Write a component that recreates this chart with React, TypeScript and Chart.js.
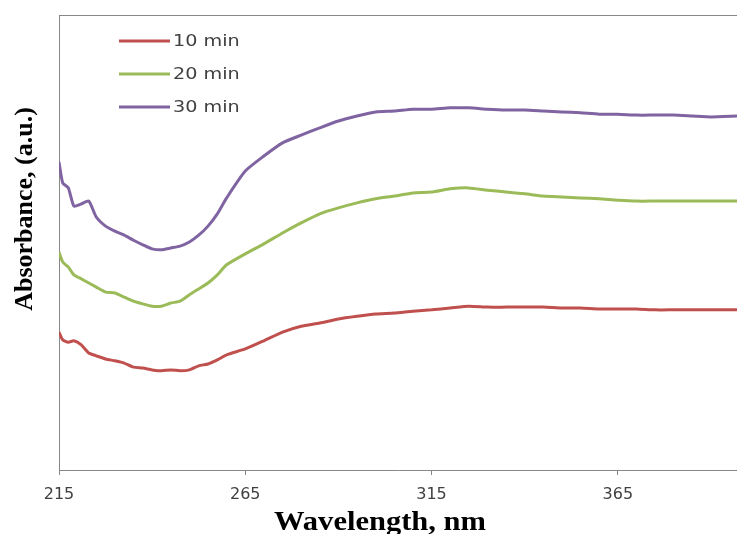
import React, { useEffect, useRef } from "react";
import { Chart, registerables } from "chart.js";

Chart.register(...registerables);

const wavelengths = [215, 216, 217.5, 219, 221, 223, 225, 227.5, 230, 232.5, 235, 237.5, 240, 242.5, 245, 247.5, 250, 252.5, 255, 257.5, 260, 265, 270, 275, 280, 285, 290, 295, 300, 305, 310, 315, 320, 325, 330, 335, 340, 345, 350, 355, 360, 365, 370, 375, 380, 385, 390, 397];

const series10 = [30.3, 28.6, 28.1, 28.4, 27.5, 25.7, 25.1, 24.4, 24.0, 23.5, 22.6, 22.4, 22.0, 21.8, 22.0, 21.8, 22.0, 22.9, 23.3, 24.2, 25.3, 26.6, 28.4, 30.3, 31.6, 32.3, 33.2, 33.8, 34.3, 34.5, 34.9, 35.2, 35.6, 36.0, 35.8, 35.8, 35.8, 35.8, 35.6, 35.6, 35.4, 35.4, 35.4, 35.2, 35.2, 35.2, 35.2, 35.2];

const series20 = [47.9, 45.7, 44.6, 42.9, 42.0, 41.1, 40.2, 39.1, 38.9, 38.0, 37.1, 36.5, 36.0, 36.0, 36.7, 37.1, 38.5, 39.8, 41.1, 42.9, 45.1, 47.5, 49.7, 52.1, 54.3, 56.3, 57.6, 58.7, 59.6, 60.2, 60.9, 61.1, 61.8, 62.0, 61.5, 61.1, 60.7, 60.2, 60.0, 59.8, 59.6, 59.3, 59.1, 59.1, 59.1, 59.1, 59.1, 59.1];

const series30 = [67.7, 63.1, 62.0, 58.0, 58.5, 59.1, 55.6, 53.6, 52.5, 51.6, 50.5, 49.5, 48.6, 48.4, 48.8, 49.2, 50.1, 51.6, 53.6, 56.3, 59.8, 65.7, 69.0, 71.9, 73.6, 75.2, 76.7, 77.8, 78.7, 78.9, 79.3, 79.3, 79.6, 79.6, 79.3, 79.1, 79.1, 78.9, 78.7, 78.5, 78.2, 78.2, 78.0, 78.0, 78.0, 77.8, 77.6, 77.8];

const seriesLabels = ["10 min", "20 min", "30 min"];
const seriesColors = ["#C0504D", "#9BBB59", "#8064A2"];
const xTicks = [215, 265, 315, 365];
const xTitle = "Wavelength, nm";
const yTitle = "Absorbance, (a.u.)";

const AXIS_COLOR = "#878787";

const decorPlugin = {
  id: "decor",
  afterDraw(chart: any) {
    const { ctx, chartArea } = chart;
    ctx.save();
    // top frame line
    ctx.strokeStyle = AXIS_COLOR;
    ctx.lineWidth = 1;
    ctx.beginPath();
    ctx.moveTo(chartArea.left, chartArea.top + 0.5);
    ctx.lineTo(chartArea.right, chartArea.top + 0.5);
    ctx.stroke();

    // legend
    chart.data.datasets.forEach((ds: any, i: number) => {
      const y = chartArea.top + 26 + i * 33;
      const x0 = chartArea.left + 60;
      ctx.strokeStyle = ds.borderColor;
      ctx.lineWidth = 3;
      ctx.beginPath();
      ctx.moveTo(x0, y);
      ctx.lineTo(x0 + 51, y);
      ctx.stroke();
      ctx.save();
      ctx.translate(x0 + 54, y);
      ctx.scale(1.28, 1);
      ctx.fillStyle = "#404040";
      ctx.font = "15px 'DejaVu Sans'";
      ctx.textBaseline = "middle";
      ctx.textAlign = "left";
      ctx.fillText(ds.label, 0, 1);
      ctx.restore();
    });

    // y title
    ctx.save();
    ctx.translate(25, 209);
    ctx.rotate(-Math.PI / 2);
    ctx.fillStyle = "#000";
    ctx.font = "bold 26px 'Liberation Serif'";
    ctx.textAlign = "center";
    ctx.textBaseline = "middle";
    ctx.fillText(yTitle, 0, 0);
    ctx.restore();

    // x title
    ctx.save();
    ctx.translate(380, 530);
    ctx.scale(1.09, 1);
    ctx.fillStyle = "#000";
    ctx.font = "bold 28px 'Liberation Serif'";
    ctx.textAlign = "center";
    ctx.textBaseline = "alphabetic";
    ctx.fillText(xTitle, 0, 0);
    ctx.restore();

    ctx.restore();
  },
};

export default function App() {
  const canvasRef = useRef<HTMLCanvasElement | null>(null);

  useEffect(() => {
    if (!canvasRef.current) return;
    const allSeries = [series10, series20, series30];
    const chart = new Chart(canvasRef.current, {
      type: "line",
      data: {
        datasets: allSeries.map((s, i) => ({
          label: seriesLabels[i],
          data: wavelengths.map((w, j) => ({ x: w, y: s[j] })),
          borderColor: seriesColors[i],
          backgroundColor: seriesColors[i],
          borderWidth: 3,
          pointRadius: 0,
          tension: 0.2,
          fill: false,
        })),
      },
      options: {
        responsive: false,
        animation: false,
        layout: { padding: { top: 15, left: 0, right: 0, bottom: 0 } },
        plugins: {
          legend: { display: false },
          tooltip: { enabled: false },
          title: { display: false },
        },
        scales: {
          x: {
            type: "linear",
            min: 215,
            max: 397,
            afterBuildTicks: (scale: any) => {
              scale.ticks = xTicks.map((v) => ({ value: v }));
            },
            afterFit: (scale: any) => {
              scale.height = 64;
            },
            grid: {
              display: true,
              drawOnChartArea: false,
              drawTicks: true,
              tickLength: 5,
              color: AXIS_COLOR,
            },
            border: { display: true, color: AXIS_COLOR, width: 1 },
            ticks: {
              padding: 10,
              color: "#404040",
              font: { family: "'DejaVu Sans'", size: 16 },
              maxRotation: 0,
              autoSkip: false,
            },
            title: { display: false },
          },
          y: {
            min: 0,
            max: 100,
            afterFit: (scale: any) => {
              scale.width = 59;
            },
            grid: { display: true, drawOnChartArea: false, drawTicks: false },
            border: { display: true, color: AXIS_COLOR, width: 1 },
            ticks: { display: false },
            title: { display: false },
          },
        },
      },
      plugins: [decorPlugin],
    });
    return () => chart.destroy();
  }, []);

  return (
    <div style={{ position: "absolute", left: 0, top: 0, width: 737, height: 534, overflow: "hidden", background: "#fff" }}>
      <canvas ref={canvasRef} width={737} height={534} style={{ display: "block" }} />
    </div>
  );
}
